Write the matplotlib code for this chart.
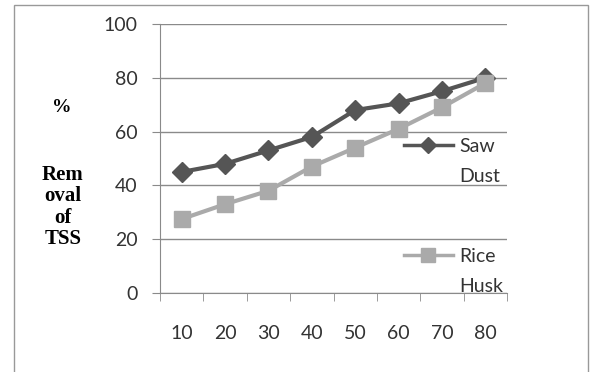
import matplotlib.pyplot as plt
from matplotlib.lines import Line2D
from matplotlib.patches import Rectangle

# data
doses = ["10", "20", "30", "40", "50", "60", "70", "80"]
saw_dust = [45, 48, 53, 58, 68, 70.5, 75, 80]
rice_husk = [27.5, 33, 38, 47, 54, 61, 69, 78]
y_ticks = [0, 20, 40, 60, 80, 100]

dark = "#555555"
light = "#aaaaaa"
grid_col = "#8a8a8a"
tick_font = "Lato"
fs = 14

fig = plt.figure(figsize=(5.9, 3.72), dpi=100)
ax = fig.add_axes([160 / 590, 1 - 293 / 372, 347 / 590, 269 / 372])

x = list(range(len(doses)))
ax.plot(x, saw_dust, color=dark, lw=3, marker="D", ms=10, zorder=3)
ax.plot(x, rice_husk, color=light, lw=3, marker="s", ms=11.5, zorder=3)

ax.set_xlim(-0.5, len(doses) - 0.5)
ax.set_ylim(0, 100)
ax.set_yticks(y_ticks)
ax.set_xticks(x)
ax.set_xticklabels(doses)
ax.set_xticks([i - 0.5 for i in range(len(doses) + 1)], minor=True)
ax.tick_params(axis="x", which="major", length=0, pad=23)
ax.tick_params(axis="x", which="minor", length=6, direction="out", color=grid_col)
ax.tick_params(axis="y", length=6, direction="out", color=grid_col, pad=10)
for lab in ax.get_xticklabels() + ax.get_yticklabels():
    lab.set_fontfamily(tick_font)
    lab.set_fontsize(fs)
    lab.set_color("#333333")

ax.yaxis.grid(True, color=grid_col, lw=1)
ax.set_axisbelow(True)
for s in ["top", "right"]:
    ax.spines[s].set_visible(False)
for s in ["left", "bottom"]:
    ax.spines[s].set_color(grid_col)

# y label, serif bold
fig.text(62 / 590, 1 - 108 / 372, "%", family="Liberation Serif", weight="bold",
         fontsize=14, ha="center", va="center")
fig.text(63 / 590, 1 - 207 / 372, "Rem\noval\nof\nTSS", family="Liberation Serif",
         weight="bold", fontsize=15, ha="center", va="center", linespacing=1.1)

# legend (two entries, label wraps below handle line)
entries = [("Saw", "Dust", dark, "D", 8, 145), ("Rice", "Husk", light, "s", 10, 255)]
for first, second, col, mk, size, ypix in entries:
    h = Line2D([], [], color=col, lw=2.5, marker=mk, ms=size)
    blank = Line2D([], [], color="none")
    leg = fig.legend([h, blank], [first, second], loc="upper left",
                     bbox_to_anchor=(404 / 590, 1 - (ypix - 7) / 372),
                     frameon=False, handlelength=2.5, handletextpad=0.35,
                     labelspacing=0.65, borderpad=0, borderaxespad=0,
                     prop={"family": tick_font, "size": fs})
    for t in leg.get_texts():
        t.set_color("#333333")

# outer frame
fig.patches.append(Rectangle((14 / 590, -0.01), 574 / 590, 1 - 5 / 372 + 0.01,
                             transform=fig.transFigure, fill=False,
                             edgecolor="#999999", lw=1))

fig.savefig("out.png", dpi=100)
